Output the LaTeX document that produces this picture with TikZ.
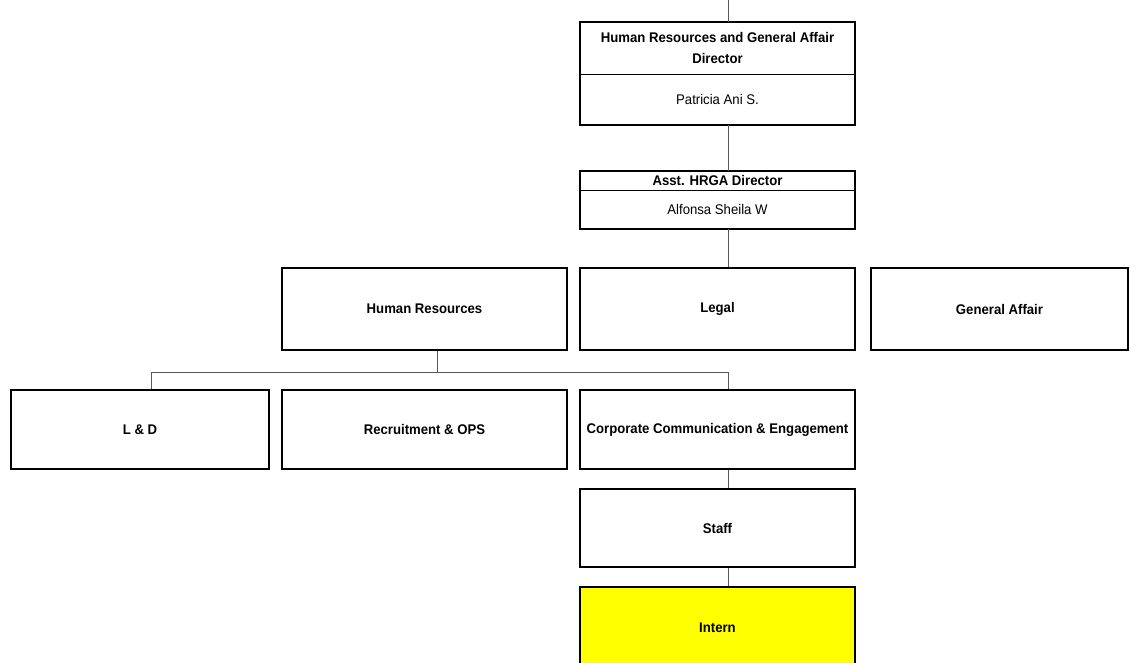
\documentclass[tikz,border=0pt]{standalone}
\usepackage{fontspec}
\setmainfont{Liberation Sans}[FakeStretch=0.94]
\definecolor{internyellow}{RGB}{255,255,0}
\begin{document}
\begin{tikzpicture}[x=1pt,y=-1pt,
  lbl/.style={font=\fontsize{14}{21}\selectfont\bfseries, align=center, inner sep=0pt},
  nm/.style={font=\fontsize{14}{21}\selectfont, align=center, inner sep=0pt},
  box/.style={draw=black, line width=1.6pt, rectangle, minimum width=#1, inner sep=0pt},
  part/.style={rectangle, minimum width=#1, inner sep=0pt},
  conn/.style={draw=black!65, line width=0.9pt},
  divider/.style={draw=black, line width=0.8pt}]
\useasboundingbox (0,0) rectangle (1130,663);
\clip (0,0) rectangle (1130,663);
% director
\node[part=275pt, minimum height=52pt] (dirH) at (717.5,48) {};
\node[lbl] at (dirH.center) {Human Resources and General Affair\\Director};
\node[part=275pt, minimum height=51pt, nm] (dirB) at (717.5,99.5) {Patricia Ani S.};
\draw[line width=1.6pt] (dirH.north west) rectangle (dirB.south east);
\draw[divider] (dirH.south west) -- (dirH.south east);
% assistant
\node[part=275pt, minimum height=19.5pt, lbl] (asstH) at (717.5,180.75) {Asst. HRGA Director};
\node[part=275pt, minimum height=38.5pt, nm] (asstB) at (717.5,209.75) {Alfonsa Sheila W};
\draw[line width=1.6pt] (asstH.north west) rectangle (asstB.south east);
\draw[divider] (asstH.south west) -- (asstH.south east);
% row 1
\node[box=285pt, minimum height=82pt, lbl] (HR) at (424.5,309) {Human Resources};
\node[box=275pt, minimum height=82pt, lbl] (Legal) at (717.5,309) {Legal};
\node[box=257pt, minimum height=82pt, lbl] (GA) at (999.5,309) {General Affair};
% row 2
\node[box=258pt, minimum height=79pt, lbl] (LD) at (140,429.5) {L \& D};
\node[box=285pt, minimum height=79pt, lbl] (Rec) at (424.5,429.5) {Recruitment \& OPS};
\node[box=275pt, minimum height=79pt, lbl] (Corp) at (717.5,429.5) {Corporate Communication \& Engagement};
\node[box=275pt, minimum height=78pt, lbl] (Staff) at (717.5,528) {Staff};
\node[box=275pt, minimum height=82pt, fill=internyellow, lbl, text height=10pt] (Intern) at (717.5,628) {Intern};
% connectors
\coordinate (top) at (728,0);
\coordinate (bus) at (437.5,372);
\coordinate (ldx) at (151.5,372);
\draw[conn] (top) -- (top |- dirH.north);
\draw[conn] (dirB.south -| top) -- (asstH.north -| top);
\draw[conn] (asstB.south -| top) -- (Legal.north -| top);
\draw[conn] (HR.south -| bus) -- (bus);
\draw[conn] (LD.north -| ldx) -- (ldx) -- (top |- bus) -- (Corp.north -| top);
\draw[conn] (Corp.south -| top) -- (Staff.north -| top);
\draw[conn] (Staff.south -| top) -- (Intern.north -| top);
\end{tikzpicture}
\end{document}
